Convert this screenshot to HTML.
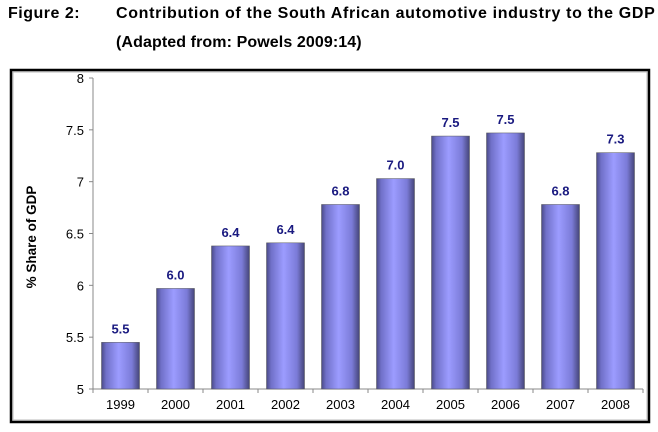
<!DOCTYPE html>
<html><head><meta charset="utf-8"><style>
body{margin:0;width:658px;height:432px;background:#fff;overflow:hidden;font-family:"Liberation Sans",sans-serif}
.t{position:absolute;font-weight:bold;font-size:16px;color:#000;white-space:nowrap}
</style></head><body>
<div class="t" style="left:8px;top:5px;letter-spacing:0.5px">Figure 2:</div>
<div class="t" style="left:116px;top:5px;letter-spacing:0.66px">Contribution of the South African automotive industry to the GDP</div>
<div class="t" style="left:116px;top:34px;letter-spacing:0.1px">(Adapted from: Powels 2009:14)</div>
<svg id="c" width="658" height="432" style="position:absolute;left:0;top:0">
<defs><linearGradient id="g" x1="0" x2="1" y1="0" y2="0">
<stop offset="0" stop-color="#4a4a86"/><stop offset="0.12" stop-color="#7070c8"/><stop offset="0.45" stop-color="#9c9cff"/><stop offset="0.8" stop-color="#7b7bd8"/><stop offset="1" stop-color="#454578"/></linearGradient></defs>
<rect x="11" y="70" width="638" height="352" fill="none" stroke="#000" stroke-width="2.5"/>
<rect x="13" y="72" width="634" height="348" fill="none" stroke="#bbb" stroke-width="1"/>
<text transform="translate(36,237) rotate(-90)" text-anchor="middle" font-size="13.5" font-weight="bold" fill="#000">% Share of GDP</text>
</svg>
<script>
const years=["1999","2000","2001","2002","2003","2004","2005","2006","2007","2008"];
const values=[5.45,5.97,6.38,6.41,6.78,7.03,7.44,7.47,6.78,7.28];
const labels=["5.5","6.0","6.4","6.4","6.8","7.0","7.5","7.5","6.8","7.3"];
const yTicks=[5,5.5,6,6.5,7,7.5,8];
const tickLabels=["5","5.5","6","6.5","7","7.5","8"];
const svg=document.getElementById('c'),NS="http://www.w3.org/2000/svg";
const x0=93,x1=643,yTop=78,yBot=389,yMin=5,yMax=8;
const y=v=>yBot-(v-yMin)/(yMax-yMin)*(yBot-yTop);
const bw=(x1-x0)/years.length;
function mk(t,a,txt){const e=document.createElementNS(NS,t);for(const k in a)e.setAttribute(k,a[k]);if(txt!=null)e.textContent=txt;svg.appendChild(e);return e;}
let ax=mk('line',{x1:x0,y1:yTop,x2:x0,y2:yBot,stroke:'#888'});


let xa=mk('line',{x1:x0,y1:yBot,x2:x1,y2:yBot,stroke:'#888'});


yTicks.forEach((v,i)=>{mk('line',{x1:x0-4,y1:y(v),x2:x0,y2:y(v),stroke:'#888'});
const t=mk('text',{x:x0-9,y:y(v)+5,'text-anchor':'end','font-size':13,fill:'#000'},tickLabels[i]);

});
for(let i=0;i<=years.length;i++)mk('line',{x1:x0+i*bw,y1:yBot,x2:x0+i*bw,y2:yBot+4,stroke:'#888'});
years.forEach((yr,i)=>{const cx=x0+bw*(i+0.5),w=38;
const r=mk('rect',{x:cx-w/2,y:y(values[i]),width:w,height:yBot-y(values[i]),fill:'url(#g)',stroke:'#555','stroke-width':0.5});


const l=mk('text',{x:cx,y:y(values[i])-9,'text-anchor':'middle','font-size':13,'font-weight':'bold',fill:'#1a1a80'},labels[i]);


const xl=mk('text',{x:cx,y:yBot+20,'text-anchor':'middle','font-size':13,fill:'#000'},yr);

});
</script>
</body></html>
